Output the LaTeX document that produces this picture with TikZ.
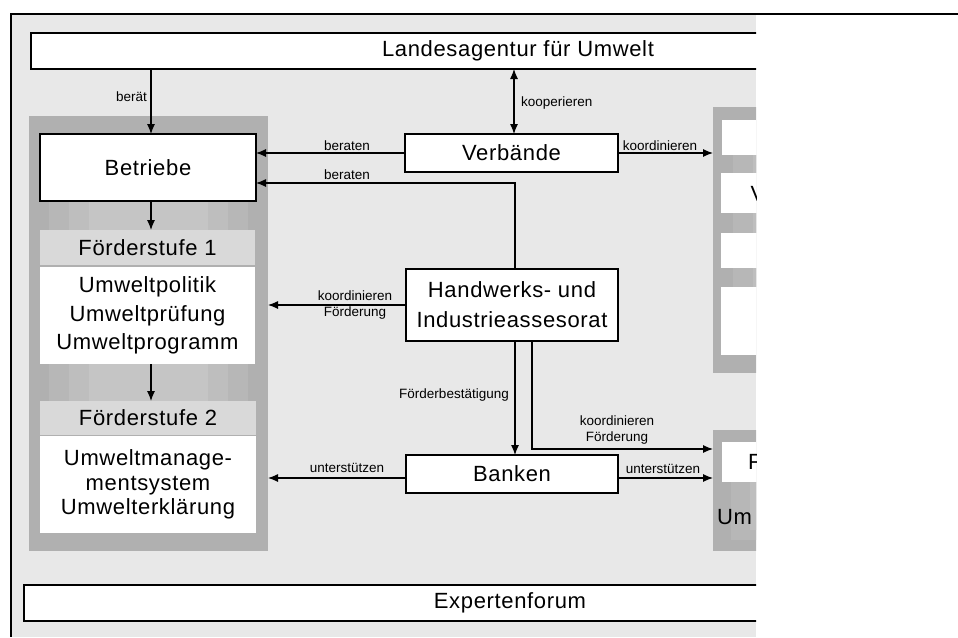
\documentclass[tikz,border=0pt]{standalone}
\usepackage{fontspec}
\setmainfont{Liberation Sans}
\newfontfamily\bigfont[LetterSpace=3]{Liberation Sans}
\usetikzlibrary{arrows.meta,calc}
\definecolor{bgc}{HTML}{E8E8E8}
\definecolor{panelc}{HTML}{B0B0B0}
\definecolor{headc}{HTML}{D9D9D9}
\definecolor{stepa}{HTML}{B7B7B7}
\definecolor{stepb}{HTML}{BEBEBE}
\definecolor{stepc}{HTML}{C5C5C5}
\newcommand{\gradband}[4]{%
  \fill[stepa] (#1+20,#3) rectangle (#2-20,#4);
  \fill[stepb] (#1+40,#3) rectangle (#2-40,#4);
  \fill[stepc] (#1+60,#3) rectangle (#2-60,#4);}
\begin{document}
\begin{tikzpicture}[x=1pt,y=-1pt,
  big/.style={font=\bigfont\fontsize{22}{26}\selectfont},
  small/.style={font=\fontsize{13.5}{16}\selectfont, inner sep=0pt},
  box/.style={draw=black, line width=1.5pt, fill=white, inner sep=0pt, outer sep=0pt, big, align=center},
  plain/.style={inner sep=0pt, outer sep=0pt, big, align=center},
  area/.style={inner sep=0pt, outer sep=0pt, anchor=north west},
  arr/.style={line width=1.1pt, -{Latex[length=10pt,width=8pt]}},
  darr/.style={line width=1.1pt, {Latex[length=10pt,width=8pt]}-{Latex[length=10pt,width=8pt]}},
]
\useasboundingbox (0,0) rectangle (958,637);
\begin{scope}
\clip (0,0) rectangle (756,637);
\fill[bgc] (12,15) rectangle (756,637);
% left panel
\node[area, fill=panelc, minimum width=239pt, minimum height=435pt] (lp) at (29,116) {};
\gradband{29}{268}{201}{230}
\gradband{29}{268}{364}{401}
% right panels
\node[area, fill=panelc, minimum width=239pt, minimum height=266pt] (rp) at (713,107) {};
\gradband{713}{952}{155}{173}
\gradband{713}{952}{213}{233}
\gradband{713}{952}{268}{287}
\node[area, fill=white, minimum width=218pt, minimum height=35pt] (rpa) at (722,120) {};
\node[area, fill=white, minimum width=219pt, minimum height=40pt] (rpb) at (721,173) {};
\node[area, fill=white, minimum width=219pt, minimum height=35pt] (rpc) at (721,233) {};
\node[area, fill=white, minimum width=219pt, minimum height=68pt] (rpd) at (721,287) {};
\node[plain, anchor=west] (vtext) at (750.5,194) {V};
\node[area, fill=panelc, minimum width=239pt, minimum height=121pt] (rp2) at (713,430) {};
\fill[stepa] (731,482) rectangle (940,540);
\fill[stepb] (750,482) rectangle (940,530);
\node[area, fill=white, minimum width=218pt, minimum height=40pt] (rp2a) at (722,442) {};
\node[plain, anchor=west] (ftext) at (748,462) {F};
\node[plain, anchor=west] (umtext) at (717,517) {Um};
% top / bottom boxes
\node[box, minimum width=974pt, minimum height=36pt] (land) at (518,51) {Landesagentur für Umwelt};
\node[box, minimum width=972pt, minimum height=36pt] (expert) at (510,603) {Expertenforum};
% left column
\node[box, minimum width=216pt, minimum height=67pt] (betriebe) at (148,167.5) {Betriebe};
\node[plain, fill=headc, minimum width=215pt, minimum height=35pt] (fs1head) at (147.5,247.5) {Förderstufe 1};
\node[plain, fill=white, minimum width=215pt, minimum height=97pt, font=\bigfont\fontsize{22}{28.5}\selectfont] (fs1body) at (147.5,315.5) {Umweltpolitik\\Umweltprüfung\\Umweltprogramm};
\node[plain, fill=headc, minimum width=216pt, minimum height=34pt] (fs2head) at (148,418) {Förderstufe 2};
\node[plain, fill=white, minimum width=216pt, minimum height=97pt, font=\bigfont\fontsize{22}{24.5}\selectfont] (fs2body) at (148,484.5) {Umweltmanage-\\mentsystem\\Umwelterklärung};
% middle column
\node[box, minimum width=213pt, minimum height=38pt] (verb) at (511.5,153) {Verbände};
\node[box, minimum width=212pt, minimum height=72pt, font=\bigfont\fontsize{22}{30}\selectfont] (hia) at (512,305) {Handwerks- und\\Industrieassesorat};
\node[box, minimum width=212pt, minimum height=38pt] (banken) at (512,474) {Banken};
% helper coordinates
\coordinate (cA) at ([xshift=3pt]betriebe.north);
\coordinate (cB) at ([xshift=3pt]betriebe.south);
\coordinate (cC) at ([xshift=3.5pt]fs1body.south);
\coordinate (cK) at ([xshift=2.5pt]verb.north);
\coordinate (cH) at ([xshift=3pt]hia.north);
\coordinate (cBe) at ([yshift=-15.5pt]betriebe.east);
\coordinate (cF) at ([xshift=3pt]hia.south);
\coordinate (cG) at ([xshift=20pt]hia.south);
\coordinate (cR) at ([yshift=41.5pt]rp2.west);
\coordinate (cU) at ([yshift=-4pt]banken.west);
\coordinate (cV) at ([yshift=-4pt]banken.east);
% connectors
\draw[arr] (cA |- land.south) -- (cA);
\draw[arr] (cB) -- (cB |- fs1head.north);
\draw[arr] (cC) -- (cC |- fs2head.north);
\draw[darr] (cK |- land.south) -- (cK);
\draw[arr] (verb.west) -- (verb.west -| betriebe.east);
\draw[arr] (cH) |- (cBe);
\draw[arr] (verb.east) -- (verb.east -| rp.west);
\draw[arr] (hia.west) -- (hia.west -| lp.east);
\draw[arr] (cF) -- (cF |- banken.north);
\draw[arr] (cG) |- (cR);
\draw[arr] (cU) -- (cU -| lp.east);
\draw[arr] (cV) -- (cV -| rp2.west);
% labels
\node[small, anchor=east] (lb1) at (147,97) {berät};
\node[small, anchor=west] (lb2) at (521,103) {kooperieren};
\node[small] (lb3) at (347,146) {beraten};
\node[small] (lb4) at (347,175) {beraten};
\node[small] (lb5) at (660,146) {koordinieren};
\node[small, align=center] (lb6) at (355,305) {koordinieren\\Förderung};
\node[small, anchor=east] (lb7) at (509,395) {Förderbestätigung};
\node[small, align=center, font=\fontsize{13.5}{16.5}\selectfont] (lb8) at (617,430) {koordinieren\\Förderung};
\node[small] (lb9) at (347,468) {unterstützen};
\node[small] (lb10) at (663,469) {unterstützen};
\end{scope}
% outer frame
\draw[line width=2pt] (10,14) -- (958,14);
\draw[line width=2pt] (11,13) -- (11,637);
\end{tikzpicture}
\end{document}
